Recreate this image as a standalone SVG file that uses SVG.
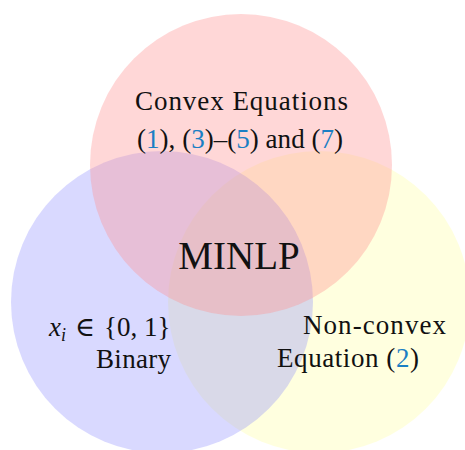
<svg xmlns="http://www.w3.org/2000/svg" width="465" height="450" viewBox="0 0 465 450">
<style>
  .t { font-family: "Liberation Serif", "DejaVu Serif", serif; fill: #111; }
  .lbl { font-size: 27px; }
  .ref { fill: #1b7fc4; }
</style>
<rect width="465" height="450" fill="#ffffff"/>
<g id="yellow-set">
  <circle cx="319" cy="302" r="151" fill="#ffff80" fill-opacity="0.25"/>
</g>
<g id="blue-set">
  <circle cx="162" cy="302" r="151" fill="#8080ff" fill-opacity="0.3"/>
</g>
<g id="red-set">
  <circle cx="241" cy="165" r="151" fill="#ff9090" fill-opacity="0.36"/>
</g>
<g id="connectors"></g>
<g id="labels">
  <g id="convex-label">
    <text class="t lbl" x="241.5" y="110" text-anchor="middle" textLength="213" lengthAdjust="spacing">Convex Equations</text>
    <text class="t lbl" x="240" y="148" text-anchor="middle" textLength="206" lengthAdjust="spacing">(<tspan class="ref">1</tspan>), (<tspan class="ref">3</tspan>)–(<tspan class="ref">5</tspan>) and (<tspan class="ref">7</tspan>)</text>
  </g>
  <g id="minlp-label">
    <text class="t" x="239" y="269" text-anchor="middle" font-size="39">MINLP</text>
  </g>
  <g id="binary-label">
    <text class="t lbl" x="49" y="336"><tspan font-style="italic">x</tspan><tspan font-style="italic" font-size="18" dy="5">i</tspan><tspan dy="-5" dx="9">∈</tspan><tspan dx="9">{0, 1}</tspan></text>
    <text class="t lbl" x="171" y="368" text-anchor="end" textLength="75" lengthAdjust="spacing">Binary</text>
  </g>
  <g id="nonconvex-label">
    <text class="t lbl" x="446" y="334" text-anchor="end" textLength="143" lengthAdjust="spacing">Non-convex</text>
    <text class="t lbl" x="419" y="367" text-anchor="end" textLength="142" lengthAdjust="spacing">Equation (<tspan class="ref">2</tspan>)</text>
  </g>
</g>
</svg>
